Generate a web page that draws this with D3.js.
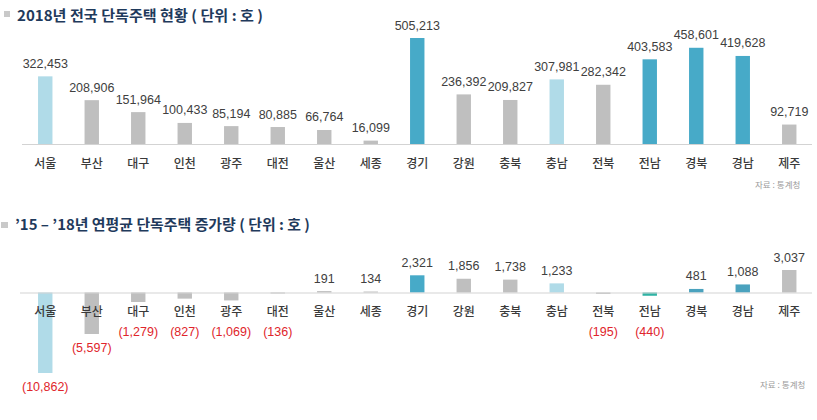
<!DOCTYPE html>
<html><head><meta charset="utf-8">
<script src="https://cdn.jsdelivr.net/npm/d3@7"></script>
<style>body{margin:0;background:#fff}svg{display:block}</style>
</head><body>
<svg id="c" width="817" height="420"></svg>
<script>
const categories = ["서울","부산","대구","인천","광주","대전","울산","세종","경기","강원","충북","충남","전북","전남","경북","경남","제주"];
const houses2018 = [322453,208906,151964,100433,85194,80885,66764,16099,505213,236392,209827,307981,282342,403583,458601,419628,92719];
const growth = [-10862,-5597,-1279,-827,-1069,-136,191,134,2321,1856,1738,1233,-195,-440,481,1088,3037];
const topColors = ["light","gray","gray","gray","gray","gray","gray","gray","teal","gray","gray","light","gray","teal","teal","teal","gray"];
const botColors = ["light","gray","gray","gray","gray","gray","gray","gray","teal","gray","gray","light","gray","green","teal2","teal2","gray"];
const title1 = "2018년 전국 단독주택 현황 ( 단위 : 호 )";
const title2 = "’15 – ’18년 연평균 단독주택 증가량 ( 단위 : 호 )";
const sourceText = "자료 : 통계청";

const palette = {light:"#b0dbe8", gray:"#bfbfbf", teal:"#47aac8", teal2:"#4aa2be", green:"#2fb3a4"};
const KR = "'Noto Sans CJK KR','Noto Sans',sans-serif";
const NUM = "'Liberation Sans',Arial,sans-serif";
const fmt = d3.format(",");

const svg = d3.select("#c");
const x = d3.scaleBand().domain(categories).range([22, 812.5]).paddingInner(0.69).paddingOuter(0.345);

// titles
function title(txt, sq, tx, ty, len){
  svg.append("rect").attr("x",sq[0]).attr("y",sq[1]).attr("width",sq[2]).attr("height",sq[3]).attr("fill","#c9c9c9");
  svg.append("text").attr("x",tx).attr("y",ty).text(txt)
    .attr("font-family",KR).attr("font-weight",700).attr("font-size",14.5)
    .attr("fill","#1f3a5c").attr("textLength",len).attr("lengthAdjust","spacingAndGlyphs");
}
title(title1,[4,11,6,6],17,21,246);
title(title2,[1,222,7,6],15,230,295);

// top chart
const y1 = d3.scaleLinear().domain([0,505213]).range([144,38]);
const g1 = svg.append("g");
g1.selectAll("rect.b").data(categories).join("rect")
  .attr("x",d=>x(d)).attr("width",x.bandwidth())
  .attr("y",(d,i)=>y1(houses2018[i])).attr("height",(d,i)=>y1(0)-y1(houses2018[i]))
  .attr("fill",(d,i)=>palette[topColors[i]]);
g1.append("line").attr("x1",22).attr("x2",812).attr("y1",y1(0)+0.5).attr("y2",y1(0)+0.5).attr("stroke","#d3d3d3");
g1.selectAll("text.v").data(categories).join("text")
  .attr("x",d=>x(d)+x.bandwidth()/2).attr("y",(d,i)=>y1(houses2018[i])-8.5)
  .attr("text-anchor","middle").attr("font-family",NUM).attr("font-size",12.5).attr("fill","#404040")
  .text((d,i)=>fmt(houses2018[i]));
g1.selectAll("text.c").data(categories).join("text")
  .attr("x",d=>x(d)+x.bandwidth()/2).attr("y",167.5)
  .attr("text-anchor","middle").attr("font-family",KR).attr("font-weight",500).attr("font-size",12).attr("fill","#3a3a3a")
  .text(d=>d);
svg.append("text").attr("x",755).attr("y",188).text(sourceText)
  .attr("font-family",KR).attr("font-size",8.5).attr("fill","#9a9a9a");

// bottom chart
const y2 = d3.scaleLinear().domain([-10862,3037]).range([373,270]);
const g2 = svg.append("g");
g2.selectAll("rect.b").data(categories).join("rect")
  .attr("x",d=>x(d)).attr("width",x.bandwidth())
  .attr("y",(d,i)=>Math.min(y2(0),y2(growth[i])))
  .attr("height",(d,i)=>Math.max(1,Math.abs(y2(growth[i])-y2(0))))
  .attr("fill",(d,i)=>palette[botColors[i]]);
g2.append("line").attr("x1",20).attr("x2",812).attr("y1",y2(0)+0.5).attr("y2",y2(0)+0.5).attr("stroke","#d3d3d3");
g2.selectAll("text.v").data(categories).join("text")
  .attr("x",d=>x(d)+x.bandwidth()/2)
  .attr("y",(d,i)=>growth[i]>=0 ? y2(growth[i])-8.5 : Math.max(y2(growth[i])+18, 335.5))
  .attr("text-anchor","middle").attr("font-family",NUM).attr("font-size",12.5)
  .attr("fill",(d,i)=>growth[i]>=0?"#404040":"#e0252b")
  .text((d,i)=>growth[i]>=0?fmt(growth[i]):"("+fmt(-growth[i])+")");
g2.selectAll("text.c").data(categories).join("text")
  .attr("x",d=>x(d)+x.bandwidth()/2).attr("y",316)
  .attr("text-anchor","middle").attr("font-family",KR).attr("font-weight",500).attr("font-size",12).attr("fill","#3a3a3a")
  .text(d=>d);
svg.append("text").attr("x",760).attr("y",388).text(sourceText)
  .attr("font-family",KR).attr("font-size",8.5).attr("fill","#9a9a9a");
</script>
</body></html>
